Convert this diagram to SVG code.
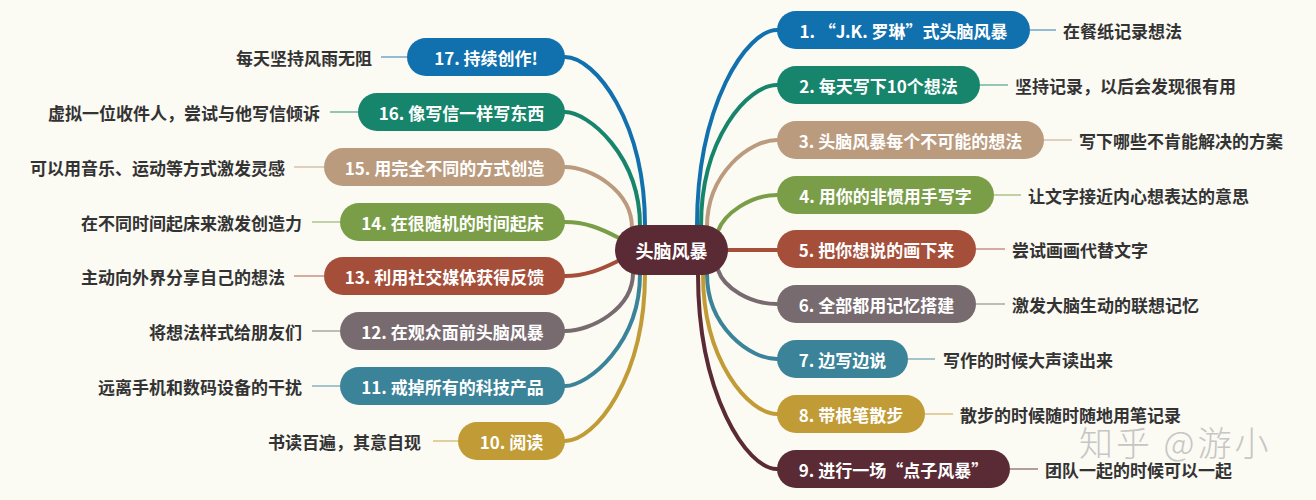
<svg xmlns="http://www.w3.org/2000/svg" width="1316" height="500" viewBox="0 0 1316 500">
<style>
.bg{fill:#fbfaf3}
.nt{font-family:"Noto Sans CJK SC","Liberation Sans",sans-serif;font-weight:700;font-size:17px;fill:#ffffff;text-anchor:middle;dominant-baseline:central}
.lb{font-family:"Noto Sans CJK SC","Liberation Sans",sans-serif;font-weight:700;font-size:17px;fill:#333333;dominant-baseline:central}
.lbl{text-anchor:end}
.br{fill:none;stroke-width:4;stroke-linecap:round}
.ln{fill:none;stroke-width:1.5;opacity:0.6}
.wm{font-family:"Noto Sans CJK SC",sans-serif;font-weight:300;font-size:34px;fill:#b5b5b5;opacity:0.75}
</style>
<rect class="bg" x="0" y="0" width="1316" height="500"/>
<g id="connectors">
<path class="br" stroke="#1170ae" d="M697,226 C697,104 747,30 777,30"/>
<path class="br" stroke="#16856c" d="M701,226 C701,138 748,85 777,85"/>
<path class="br" stroke="#bb9b7e" d="M707,227 C707,173 750,140 777,140"/>
<path class="br" stroke="#7a9e48" d="M718,231 C724,214 750,195 777,195"/>
<path class="br" stroke="#a54f3b" d="M726,250 L777,250"/>
<path class="br" stroke="#786b70" d="M718,270 C724,288 750,304 777,304"/>
<path class="br" stroke="#3b8399" d="M707,274 C707,327 750,359 777,359"/>
<path class="br" stroke="#c19b36" d="M703,274 C703,361 749,414 777,414"/>
<path class="br" stroke="#5a2a35" d="M698,274 C698,395 747,469 777,469"/>
<path class="br" stroke="#1170ae" d="M645,226 C645,121 595,57 565,57"/>
<path class="br" stroke="#16856c" d="M640,226 C640,155 588,112 565,112"/>
<path class="br" stroke="#bb9b7e" d="M632,228 C632,190 590,167 565,167"/>
<path class="br" stroke="#7a9e48" d="M619,238 C600,228 585,222 565,222"/>
<path class="br" stroke="#a54f3b" d="M618,261 C600,270 585,276 565,276"/>
<path class="br" stroke="#786b70" d="M633,273 C633,309 591,331 565,331"/>
<path class="br" stroke="#3b8399" d="M640,274 C640,344 588,386 565,386"/>
<path class="br" stroke="#c19b36" d="M645,274 C645,378 595,441 565,441"/>
<path class="ln" stroke="#1170ae" d="M1030,30 H1056"/>
<path class="ln" stroke="#16856c" d="M980,85 H1008"/>
<path class="ln" stroke="#bb9b7e" d="M1044,140 H1072"/>
<path class="ln" stroke="#7a9e48" d="M994,195 H1021"/>
<path class="ln" stroke="#a54f3b" d="M976,249 H1005"/>
<path class="ln" stroke="#786b70" d="M976,304 H1005"/>
<path class="ln" stroke="#3b8399" d="M908,359 H935"/>
<path class="ln" stroke="#c19b36" d="M925,414 H953"/>
<path class="ln" stroke="#5a2a35" d="M1010,469 H1038"/>
<path class="ln" stroke="#1170ae" d="M381,57 H407"/>
<path class="ln" stroke="#16856c" d="M330,112 H358"/>
<path class="ln" stroke="#bb9b7e" d="M294,167 H324"/>
<path class="ln" stroke="#7a9e48" d="M312,222 H340"/>
<path class="ln" stroke="#a54f3b" d="M294,276 H324"/>
<path class="ln" stroke="#786b70" d="M312,331 H340"/>
<path class="ln" stroke="#3b8399" d="M312,386 H340"/>
<path class="ln" stroke="#c19b36" d="M433,441 H458"/>
</g>
<g id="center">
<rect x="615" y="225" width="113" height="50" rx="25" fill="#5a2a35"/>
<text class="nt" x="671.5" y="250" style="font-size:18px">头脑风暴</text>
</g>
<g id="n1"><rect x="777" y="11" width="253" height="38" rx="19" fill="#1170ae"/><text class="nt" x="903.5" y="30">1. “J.K. 罗琳”式头脑风暴</text><text class="lb" x="1063" y="30">在餐纸记录想法</text></g>
<g id="n2"><rect x="777" y="66" width="203" height="38" rx="19" fill="#16856c"/><text class="nt" x="878.5" y="85">2. 每天写下10个想法</text><text class="lb" x="1015" y="85">坚持记录，以后会发现很有用</text></g>
<g id="n3"><rect x="777" y="121" width="267" height="38" rx="19" fill="#bb9b7e"/><text class="nt" x="910.5" y="140">3. 头脑风暴每个不可能的想法</text><text class="lb" x="1079" y="140">写下哪些不肯能解决的方案</text></g>
<g id="n4"><rect x="777" y="176" width="217" height="38" rx="19" fill="#7a9e48"/><text class="nt" x="885.5" y="195">4. 用你的非惯用手写字</text><text class="lb" x="1028" y="195">让文字接近内心想表达的意思</text></g>
<g id="n5"><rect x="777" y="230" width="199" height="38" rx="19" fill="#a54f3b"/><text class="nt" x="876.5" y="249">5. 把你想说的画下来</text><text class="lb" x="1012" y="249">尝试画画代替文字</text></g>
<g id="n6"><rect x="777" y="285" width="199" height="38" rx="19" fill="#786b70"/><text class="nt" x="876.5" y="304">6. 全部都用记忆搭建</text><text class="lb" x="1012" y="304">激发大脑生动的联想记忆</text></g>
<g id="n7"><rect x="777" y="340" width="131" height="38" rx="19" fill="#3b8399"/><text class="nt" x="842.5" y="359">7. 边写边说</text><text class="lb" x="943" y="359">写作的时候大声读出来</text></g>
<g id="n8"><rect x="777" y="395" width="148" height="38" rx="19" fill="#c19b36"/><text class="nt" x="851" y="414">8. 带根笔散步</text><text class="lb" x="960" y="414">散步的时候随时随地用笔记录</text></g>
<g id="n9"><rect x="777" y="450" width="233" height="38" rx="19" fill="#5a2a35"/><text class="nt" x="893.5" y="469">9. 进行一场“点子风暴”</text><text class="lb" x="1045" y="469">团队一起的时候可以一起</text></g>
<g id="n17"><rect x="407" y="38" width="158" height="38" rx="19" fill="#1170ae"/><text class="nt" x="486" y="57">17. 持续创作!</text><text class="lb lbl" x="372" y="57">每天坚持风雨无阻</text></g>
<g id="n16"><rect x="358" y="93" width="207" height="38" rx="19" fill="#16856c"/><text class="nt" x="461.5" y="112">16. 像写信一样写东西</text><text class="lb lbl" x="320" y="112">虚拟一位收件人，尝试与他写信倾诉</text></g>
<g id="n15"><rect x="324" y="148" width="241" height="38" rx="19" fill="#bb9b7e"/><text class="nt" x="444.5" y="167">15. 用完全不同的方式创造</text><text class="lb lbl" x="285" y="167">可以用音乐、运动等方式激发灵感</text></g>
<g id="n14"><rect x="340" y="203" width="225" height="38" rx="19" fill="#7a9e48"/><text class="nt" x="452.5" y="222">14. 在很随机的时间起床</text><text class="lb lbl" x="302" y="222">在不同时间起床来激发创造力</text></g>
<g id="n13"><rect x="324" y="257" width="241" height="38" rx="19" fill="#a54f3b"/><text class="nt" x="444.5" y="276">13. 利用社交媒体获得反馈</text><text class="lb lbl" x="285" y="276">主动向外界分享自己的想法</text></g>
<g id="n12"><rect x="340" y="312" width="225" height="38" rx="19" fill="#786b70"/><text class="nt" x="452.5" y="331">12. 在观众面前头脑风暴</text><text class="lb lbl" x="302" y="331">将想法样式给朋友们</text></g>
<g id="n11"><rect x="340" y="367" width="225" height="38" rx="19" fill="#3b8399"/><text class="nt" x="452.5" y="386">11. 戒掉所有的科技产品</text><text class="lb lbl" x="302" y="386">远离手机和数码设备的干扰</text></g>
<g id="n10"><rect x="458" y="422" width="107" height="38" rx="19" fill="#c19b36"/><text class="nt" x="511.5" y="441">10. 阅读</text><text class="lb lbl" x="421" y="441">书读百遍，其意自现</text></g>
<text class="wm" x="1079" y="456" letter-spacing="3">知乎 @游小</text>
</svg>
